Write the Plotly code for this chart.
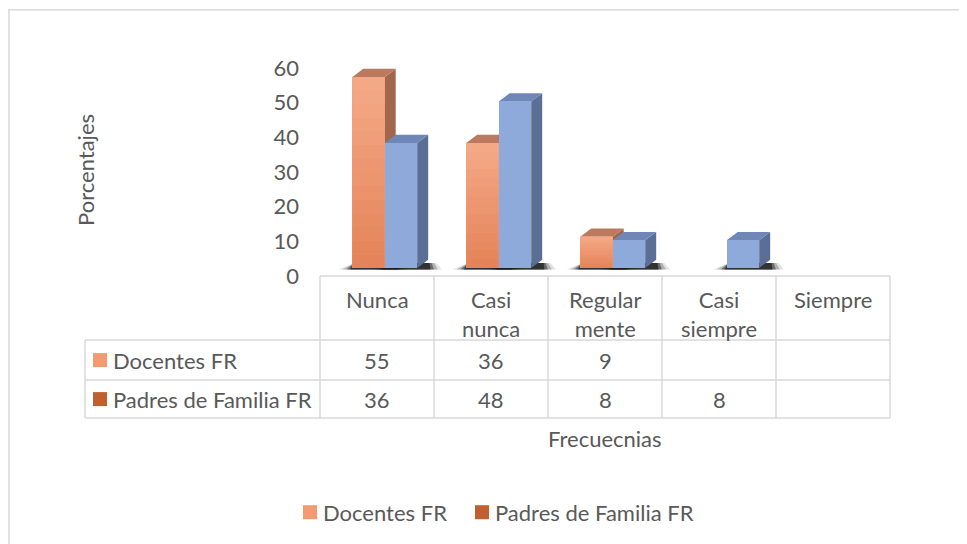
import plotly.graph_objects as go

# ---------------- data ----------------
categories = ["Nunca", "Casi<br>nunca", "Regular<br>mente", "Casi<br>siempre", "Siempre"]
series_names = ["Docentes FR", "Padres de Familia FR"]
docentes = [55, 36, 9, None, None]
padres = [36, 48, 8, 8, None]
y_ticks = [0, 10, 20, 30, 40, 50, 60]

# ---------------- style ----------------
PAGE_OFF = 8                   # browser body margin
W, H = 967 - PAGE_OFF, 544 - PAGE_OFF
TXT = "#595959"
GRID = "#D9D9D9"
FONT = "Lato"
FS = 22
front_cols = ["#F49A6E", "#8EAADB"]
grad_top = (245, 170, 136)
grad_bot = (228, 130, 88)
side_cols = ["#A2664C", "#5A6E96"]
top_cols = ["#BB7A60", "#6E87B7"]
legend_cols = ["#F39A70", "#C0602E"]

L_PX, R_PX = 320, 890          # category area (reference pixels)
Y0_PX = 276                    # value 0 on axis
PXU = 208 / 60                 # px per unit
YMAX = 66
T_PX = Y0_PX - YMAX * PXU
FLOOR_U = 8 / PXU              # bars stand on a floor slightly above axis
CAT_W = (R_PX - L_PX) / len(categories)
BAR_W = 0.285
OFFS = [-0.075, 0.21]
DX_U = 11 / CAT_W              # depth offset in data units
DY_U = 8.3 / PXU


def xp(px):
    return (px - L_PX) / (R_PX - L_PX)


def yp(py):
    return (Y0_PX - py) / (Y0_PX - T_PX)


def mix(a, b, t):
    return "rgb(%d,%d,%d)" % tuple(round(a[k] + (b[k] - a[k]) * t) for k in range(3))


fig = go.Figure()
# helper trace so the tick axis exists
fig.add_trace(go.Scatter(x=[None], y=[None], xaxis="x", yaxis="y", showlegend=False, hoverinfo="skip"))
shapes = []
annotations = []

series = [docentes, padres]
for s, vals in enumerate(series):
    xs = [i + OFFS[s] for i in range(len(categories))]
    fig.add_trace(go.Bar(
        x=xs, y=vals, width=BAR_W, yaxis="y2", name=series_names[s],
        marker=dict(color=front_cols[s], line=dict(width=0)),
        showlegend=False, hoverinfo="y+name"))
    for i, v in enumerate(vals):
        if not v:
            continue
        x0 = xs[i] - BAR_W / 2
        x1 = xs[i] + BAR_W / 2
        # soft shadow on floor
        for k, (ext, op) in enumerate([(0.12, 0.12), (0.085, 0.25), (0.05, 0.45), (0.02, 0.7)]):
            shapes.append(dict(type="path", xref="x", yref="y2", layer="below",
                               path=f"M{x0 - ext},{-0.45} L{x1 + DX_U + ext},{-0.45} "
                                    f"L{x1 + DX_U + ext * 0.6},{DY_U * 0.6} L{x0 + DX_U * 0.2},{DY_U * 0.6} Z",
                               fillcolor=f"rgba(25,25,25,{op})", line=dict(width=0)))
        # side face
        shapes.append(dict(type="path", xref="x", yref="y2", layer="below",
                           path=f"M{x1},{0} L{x1 + DX_U},{DY_U} L{x1 + DX_U},{v + DY_U} L{x1},{v} Z",
                           fillcolor=side_cols[s], line=dict(width=0)))
        # top face
        shapes.append(dict(type="path", xref="x", yref="y2", layer="below",
                           path=f"M{x0},{v} L{x1},{v} L{x1 + DX_U},{v + DY_U} L{x0 + DX_U},{v + DY_U} Z",
                           fillcolor=top_cols[s], line=dict(width=0)))
        # vertical gradient on orange front face
        if s == 0:
            n = 14
            for k in range(n):
                shapes.append(dict(type="rect", xref="x", yref="y2", layer="above",
                                   x0=x0, x1=x1, y0=v * (1 - (k + 1) / n), y1=v * (1 - k / n) + 0.05,
                                   fillcolor=mix(grad_top, grad_bot, (k + 0.5) / n), line=dict(width=0)))

# ---------------- table ----------------
row_lines = [340, 380, 418]
col_px = [L_PX + k * CAT_W for k in range(len(categories) + 1)]
line_style = dict(color=GRID, width=1.5)
shapes.append(dict(type="line", xref="paper", yref="paper", x0=xp(L_PX), x1=xp(R_PX),
                   y0=yp(Y0_PX), y1=yp(Y0_PX), line=line_style))
for ry in row_lines:
    shapes.append(dict(type="line", xref="paper", yref="paper", x0=xp(85), x1=xp(R_PX),
                       y0=yp(ry), y1=yp(ry), line=line_style))
for cx in col_px:
    shapes.append(dict(type="line", xref="paper", yref="paper", x0=xp(cx), x1=xp(cx),
                       y0=yp(Y0_PX), y1=yp(418), line=line_style))
shapes.append(dict(type="line", xref="paper", yref="paper", x0=xp(85), x1=xp(85),
                   y0=yp(340), y1=yp(418), line=line_style))

for i, c in enumerate(categories):
    annotations.append(dict(x=i, y=yp(284), xref="x", yref="paper", text=c, showarrow=False,
                            xanchor="center", yanchor="top", align="center",
                            font=dict(family=FONT, size=FS, color=TXT)))
row_centers = [360, 399]
for s, vals in enumerate(series):
    for i, v in enumerate(vals):
        if v is None:
            continue
        annotations.append(dict(x=i, y=yp(row_centers[s]), xref="x", yref="paper", text=str(v),
                                showarrow=False, xanchor="center", yanchor="middle",
                                font=dict(family=FONT, size=FS, color=TXT)))
    shapes.append(dict(type="rect", xref="paper", yref="paper", x0=xp(93), x1=xp(107),
                       y0=yp(row_centers[s] + 7), y1=yp(row_centers[s] - 7),
                       fillcolor=legend_cols[s], line=dict(width=0)))
    annotations.append(dict(x=xp(111), y=yp(row_centers[s]), xref="paper", yref="paper",
                            text=series_names[s], showarrow=False, xanchor="left", yanchor="middle",
                            font=dict(family=FONT, size=FS, color=TXT)))

annotations.append(dict(x=xp(605), y=yp(438), xref="paper", yref="paper", text="Frecuecnias",
                        showarrow=False, xanchor="center", yanchor="middle",
                        font=dict(family=FONT, size=FS, color=TXT)))
annotations.append(dict(x=xp(86), y=yp(170), xref="paper", yref="paper", text="Porcentajes",
                        showarrow=False, textangle=-90, xanchor="center", yanchor="middle",
                        font=dict(family=FONT, size=FS, color=TXT)))

leg_x = [303, 475]
for s in range(2):
    shapes.append(dict(type="rect", xref="paper", yref="paper", x0=xp(leg_x[s]), x1=xp(leg_x[s] + 14),
                       y0=yp(519), y1=yp(505), fillcolor=legend_cols[s], line=dict(width=0)))
    annotations.append(dict(x=xp(leg_x[s] + 18), y=yp(512), xref="paper", yref="paper",
                            text=series_names[s], showarrow=False, xanchor="left", yanchor="middle",
                            font=dict(family=FONT, size=FS, color=TXT)))

shapes.append(dict(type="rect", xref="paper", yref="paper", x0=xp(9), x1=xp(1000),
                   y0=yp(600), y1=yp(10), line=dict(color=GRID, width=1.5), fillcolor="rgba(0,0,0,0)"))

fig.update_layout(
    width=W, height=H,
    margin=dict(l=L_PX - PAGE_OFF, r=W - (R_PX - PAGE_OFF), t=T_PX - PAGE_OFF,
                b=H - (Y0_PX - PAGE_OFF), autoexpand=False),
    paper_bgcolor="white", plot_bgcolor="white",
    xaxis=dict(range=[-0.5, len(categories) - 0.5], showticklabels=False, showgrid=False,
               zeroline=False, showline=False, ticks=""),
    yaxis=dict(range=[0, YMAX], tickvals=y_ticks, ticktext=[str(t) for t in y_ticks],
               showgrid=False, zeroline=False, showline=False, ticks="", ticklabelstandoff=20,
               tickfont=dict(family=FONT, size=FS, color=TXT)),
    yaxis2=dict(range=[-FLOOR_U, YMAX - FLOOR_U], overlaying="y", visible=False),
    shapes=shapes, annotations=annotations, showlegend=False,
    bargap=0,
)

fig.write_html("out.html")
